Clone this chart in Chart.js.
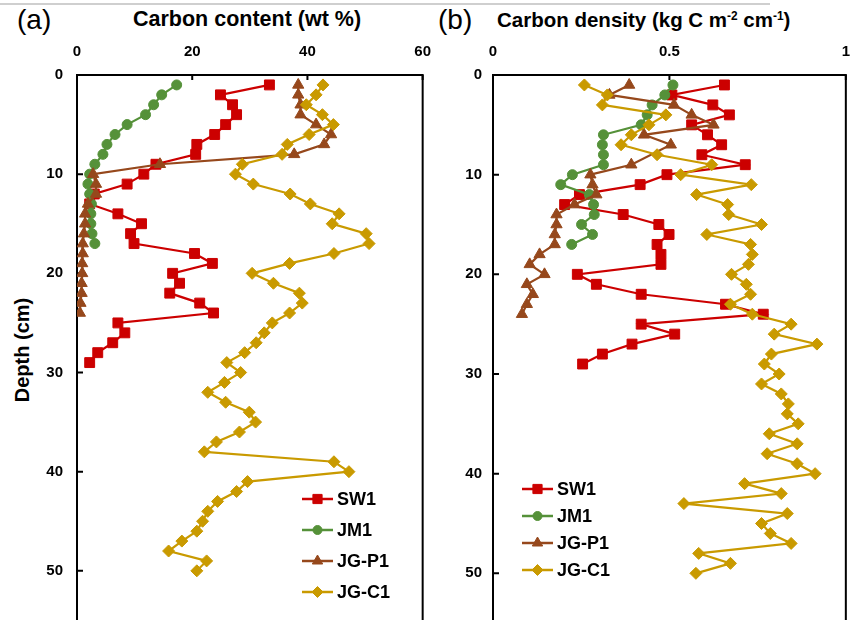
<!DOCTYPE html>
<html>
<head>
<meta charset="utf-8">
<script src="https://cdn.jsdelivr.net/npm/chart.js@4.4.1/dist/chart.umd.min.js"></script>
<style>
  html, body { margin: 0; padding: 0; width: 851px; height: 620px; overflow: hidden; background: #fff; }
  body { position: relative; font-family: 'Liberation Sans', Arial, sans-serif; }
  canvas { position: absolute; top: 0; }
  .t { position: absolute; white-space: nowrap; color: #000; line-height: 1; }
  .lab { font-size: 28px; font-weight: normal; }
  .ttl { font-size: 20.5px; font-weight: bold; }
  sup { font-size: 58%; vertical-align: 0; position: relative; top: -0.6em; }
</style>
</head>
<body>
<div style="position:absolute;left:0;top:3px;width:770px;height:1.5px;background:#cfcfcf;"></div>
<div class="t lab" style="left:17px;top:6px;">(a)</div>
<div class="t ttl" style="left:133px;top:9px;font-size:21.5px;">Carbon content (wt %)</div>
<div class="t lab" style="left:438px;top:6px;">(b)</div>
<div class="t ttl" style="left:497px;top:10px;">Carbon density (kg C m<sup>-2</sup> cm<sup>-1</sup>)</div>
<div class="t ttl" style="left:22px;top:350px;transform:translate(-50%,-50%) rotate(-90deg);font-size:20px;">Depth (cm)</div>
<canvas id="ca" width="445" height="693" style="left:0px;"></canvas>
<canvas id="cb" width="432" height="693" style="left:432px;"></canvas>
<script>
// ---------- DATA ----------
const seriesNames = ['SW1', 'JM1', 'JG-P1', 'JG-C1'];
const depthTicks = [0, 10, 20, 30, 40, 50];
const contentTicks = [0, 20, 40, 60];
const densityTicks = [0, 0.5, 1];

// Panel (a): carbon content (wt %)
const depthSW1 = [1,2,3,4,5,6,7,8,9,10,11,12,13,14,15,16,17,18,19,20,21,22,23,24,25,26,27,28,29];
const contentSW1 = [33.4,24.9,27.0,27.7,25.8,23.9,20.8,20.6,13.7,11.6,8.7,3.0,2.2,7.1,11.2,9.3,9.9,20.4,23.5,16.6,17.8,16.1,21.3,23.7,7.1,8.3,6.2,3.6,2.2];
const depthJM1 = [1,2,3,4,5,6,7,8,9,10,11,12,13,14,15,16,17];
const contentJM1 = [17.3,14.7,13.3,11.9,8.7,6.6,5.2,4.5,3.1,2.2,1.9,2.2,2.5,2.4,2.4,2.6,3.1];
const depthJGP1a = [1,2,3,4,5,6,7,8,9,10,11,12,13,14,15,16,17,18,19,20,21,22,23,24];
const contentJGP1 = [38.4,38.4,38.8,38.8,41.5,44.1,42.9,37.7,14.4,2.8,3.3,3.3,1.9,1.4,1.4,1.2,1.0,1.0,0.9,0.9,0.8,0.8,0.6,0.5];
const depthJGC1 = [1,2,3,4,5,6,7,8,9,10,11,12,13,14,15,16,17,18,19,20,21,22,23,24,25,26,27,28,29,30,31,32,33,34,35,36,37,38,39,40,41,42,43,44,45,46,47,48,49,50];
const contentJGC1 = [42.7,41.5,39.8,42.6,44.5,40.3,36.5,35.6,28.7,27.5,30.6,37.0,40.5,45.5,44.3,50.2,50.7,44.6,36.9,30.4,34.1,38.6,39.1,36.9,33.9,32.5,31.1,29.1,26.0,28.4,25.6,22.7,25.8,29.9,31.0,28.2,24.2,22.1,44.6,47.2,29.6,27.7,24.4,22.7,21.8,20.8,18.2,15.9,22.5,20.8];

// Panel (b): carbon density (kg C m-2 cm-1)
const densitySW1 = [0.656,0.507,0.623,0.670,0.563,0.608,0.648,0.592,0.715,0.493,0.417,0.245,0.203,0.369,0.470,0.499,0.465,0.476,0.476,0.239,0.293,0.420,0.659,0.766,0.420,0.515,0.394,0.310,0.254];
const densityJM1 = [0.510,0.487,0.451,0.437,0.420,0.313,0.310,0.313,0.313,0.225,0.192,0.273,0.285,0.287,0.251,0.282,0.223];
const depthJGP1b = [1,2,3,4,5,6,7,9,10,11,12,13,14,15,16,17,18,19,20,21,22,23,24];
const densityJGP1 = [0.386,0.330,0.513,0.563,0.625,0.428,0.504,0.392,0.276,0.282,0.293,0.231,0.180,0.180,0.175,0.175,0.132,0.104,0.146,0.096,0.113,0.096,0.082];
const densityJGC1 = [0.259,0.324,0.310,0.490,0.442,0.392,0.363,0.465,0.620,0.532,0.732,0.577,0.665,0.668,0.761,0.606,0.730,0.735,0.724,0.676,0.718,0.730,0.673,0.735,0.845,0.797,0.918,0.789,0.769,0.811,0.761,0.817,0.837,0.834,0.865,0.783,0.862,0.777,0.862,0.913,0.713,0.817,0.541,0.834,0.761,0.786,0.845,0.583,0.673,0.575];

// ---------- STYLE ----------
const colors = ['#cc0000', '#559139', '#96481c', '#c99a00'];
const pstyles = ['rect', 'circle', 'triangle', 'rectRot'];
const pradius = [7, 5, 6.5, 6];
const FONT = "'Liberation Sans', Arial, sans-serif";

function pts(xs, ys) { return xs.map((v, i) => ({ x: v, y: ys[i] })); }

function makeDatasets(lists) {
  return lists.map((d, i) => ({
    label: seriesNames[i],
    data: d,
    showLine: true,
    borderColor: colors[i],
    backgroundColor: colors[i],
    borderWidth: 2.2,
    pointStyle: pstyles[i],
    pointRadius: pradius[i],
    pointBorderWidth: 1,
    pointBorderColor: colors[i],
    pointBackgroundColor: colors[i],
    order: 3 - i,
    tension: 0
  }));
}

const framePlugin = {
  id: 'frame',
  beforeDatasetsDraw(chart) {
    const { ctx, chartArea: a, scales: { x, y } } = chart;
    ctx.save();
    ctx.strokeStyle = '#000';
    ctx.lineWidth = 2;
    ctx.strokeRect(a.left, a.top, a.right - a.left, a.bottom - a.top);
    ctx.beginPath();
    x.ticks.forEach(t => { const px = x.getPixelForValue(t.value); ctx.moveTo(px, a.top); ctx.lineTo(px, a.top + 5); });
    y.ticks.forEach(t => { const py = y.getPixelForValue(t.value); ctx.moveTo(a.left, py); ctx.lineTo(a.left + 6, py); });
    ctx.stroke();
    ctx.restore();
  },
  afterDraw(chart, args, opts) {
    const { ctx } = chart;
    ctx.save();
    seriesNames.forEach((name, i) => {
      const yy = opts.y0 + i * opts.dy;
      const lx = opts.x0;
      ctx.strokeStyle = colors[i];
      ctx.lineWidth = 2.5;
      ctx.beginPath(); ctx.moveTo(lx, yy); ctx.lineTo(lx + 31, yy); ctx.stroke();
      ctx.fillStyle = colors[i];
      ctx.lineWidth = 1;
      Chart.helpers.drawPoint(ctx, { pointStyle: pstyles[i], radius: pradius[i] - 0.5, rotation: 0, borderWidth: 1 }, lx + 15.5, yy);
      ctx.fillStyle = '#000';
      ctx.font = 'bold 18px ' + FONT;
      ctx.textBaseline = 'middle';
      ctx.textAlign = 'left';
      ctx.fillText(name, lx + 35, yy + 1);
    });
    ctx.restore();
  }
};

function makeChart(id, datasets, xmax, xstep, yAxisWidth, padRight, yPad, legend) {
  return new Chart(document.getElementById(id), {
    type: 'scatter',
    data: { datasets },
    plugins: [framePlugin],
    options: {
      responsive: false,
      animation: false,
      devicePixelRatio: 1,
      layout: { padding: { left: 0, right: padRight, top: 0, bottom: 0 } },
      plugins: { legend: { display: false }, tooltip: { enabled: false }, frame: legend },
      scales: {
        x: {
          type: 'linear', position: 'top', min: 0, max: xmax,
          grid: { display: false, drawTicks: false },
          border: { display: false },
          ticks: { stepSize: xstep, padding: 14, color: '#000', maxRotation: 0, autoSkip: false,
                   font: { family: FONT, size: 15, weight: 'bold' },
                   callback: v => String(v) },
          afterFit(s) { s.height = 75; }
        },
        y: {
          type: 'linear', reverse: true, min: 0, max: 60,
          grid: { display: false, drawTicks: false },
          border: { display: false },
          ticks: { stepSize: 10, padding: yPad, color: '#000', autoSkip: false,
                   font: { family: FONT, size: 15, weight: 'bold' },
                   callback: v => (depthTicks.includes(v) ? String(v) : null) },
          afterFit(s) { s.width = yAxisWidth; }
        }
      }
    }
  });
}

makeChart('ca', makeDatasets([
  pts(contentSW1, depthSW1),
  pts(contentJM1, depthJM1),
  pts(contentJGP1, depthJGP1a),
  pts(contentJGC1, depthJGC1)
]), 60, 20, 77, 21, 14, { x0: 302, y0: 499, dy: 31 });

makeChart('cb', makeDatasets([
  pts(densitySW1, depthSW1),
  pts(densityJM1, depthJM1),
  pts(densityJGP1, depthJGP1b),
  pts(densityJGC1, depthJGC1)
]), 1, 0.5, 61, 9, 11, { x0: 90, y0: 489, dy: 27 });
</script>
</body>
</html>
